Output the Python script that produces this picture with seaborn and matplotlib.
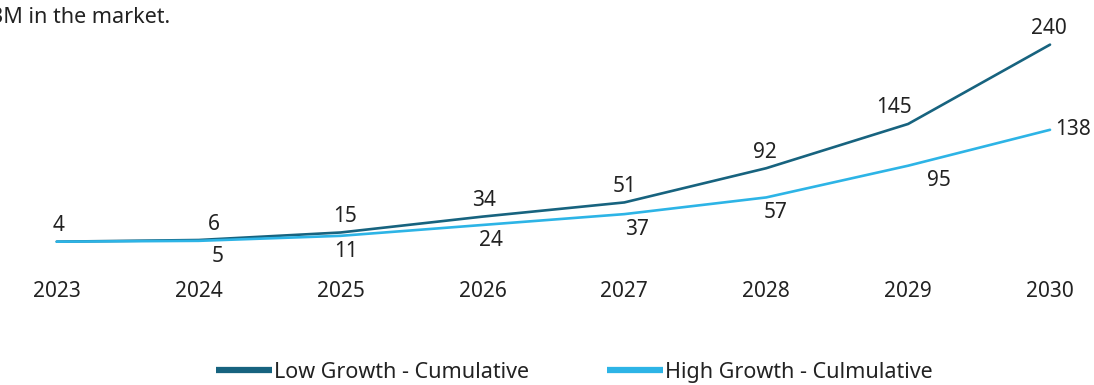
import matplotlib
matplotlib.use("Agg")
import matplotlib.pyplot as plt
import seaborn as sns
import pandas as pd

years = [2023, 2024, 2025, 2026, 2027, 2028, 2029, 2030]
low_growth = [4, 6, 15, 34, 51, 92, 145, 240]
high_growth = [4, 5, 11, 24, 37, 57, 95, 138]
series_names = ["Low Growth - Cumulative", "High Growth - Culmulative"]
caption = "3M in the market."

# horizontal nudges (points) for the value labels
low_dx = [1, 11, 3, 1, 0, -1, -10, -1]
high_dx = [0, 14, 4, 6, 9, 7, 22, 0]

sns.set_theme(style="white")
plt.rcParams["font.family"] = ["Noto Sans", "DejaVu Sans"]

df = pd.DataFrame({
    "year": years * 2,
    "value": low_growth + high_growth,
    "series": [series_names[0]] * len(years) + [series_names[1]] * len(years),
})

colors = {series_names[0]: "#17637F", series_names[1]: "#2DB4E6"}
txt = "#222222"

fig = plt.figure(figsize=(10.94, 3.85), dpi=100)
ax = fig.add_axes([0.0, 0.3636, 1.0, 0.5844])

sns.lineplot(data=df, x="year", y="value", hue="series", palette=colors,
             linewidth=1.9, ax=ax, legend=False)

ax.set_xlim(2022.6, 2030.31)
ax.set_ylim(0, 269.5)
ax.set_xticks(years)
ax.set_xticklabels([str(y) for y in years], fontsize=15, color=txt)
ax.tick_params(axis="x", length=0, pad=26)
ax.set_yticks([])
ax.set_xlabel("")
ax.set_ylabel("")
for s in ax.spines.values():
    s.set_visible(False)

# value labels: upper series above, lower series below
for x, v, dx in zip(years, low_growth, low_dx):
    ax.annotate(str(v), (x, v), xytext=(dx, 11.5), textcoords="offset points",
                ha="center", va="center", fontsize=15, color=txt)
for i, (x, v, dx) in enumerate(zip(years, high_growth, high_dx)):
    if i == 0:
        continue
    if i == len(years) - 1:
        ax.annotate(str(v), (x, v), xytext=(4, 0), textcoords="offset points",
                    ha="left", va="center", fontsize=15, color=txt)
    else:
        ax.annotate(str(v), (x, v), xytext=(dx, -11), textcoords="offset points",
                    ha="center", va="center", fontsize=15, color=txt)

handles = [plt.Line2D([], [], color=colors[n], linewidth=4.5, solid_capstyle="butt")
           for n in series_names]
fig.legend(handles, series_names, loc="lower center", bbox_to_anchor=(0.525, -0.045),
           ncol=2, frameon=False, fontsize=15.5, handlelength=2.6,
           handletextpad=0.1, columnspacing=3.6, labelcolor=txt)

fig.text(-0.008, 0.955, caption, fontsize=15.5, color=txt, ha="left", va="center")

fig.savefig("out.png", dpi=100)
